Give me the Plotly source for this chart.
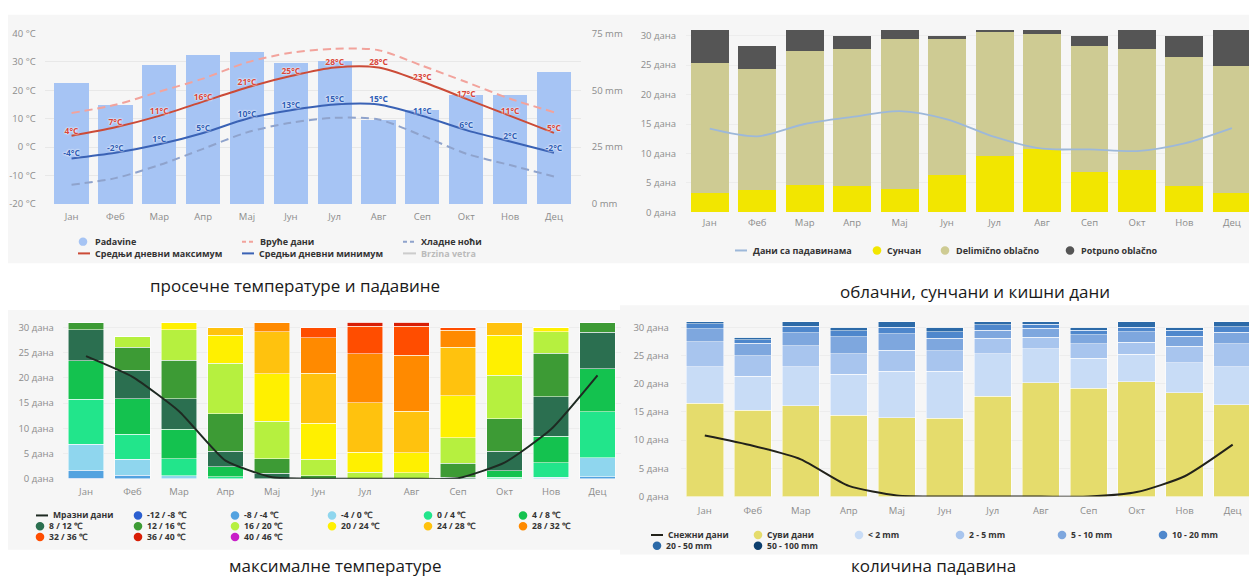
import plotly.graph_objects as go

W, H = 1249, 585
FONT = "Open Sans"

months = ["Јан", "Феб", "Мар", "Апр", "Мај", "Јун", "Јул", "Авг", "Сеп", "Окт", "Нов", "Дец"]

# ---------- panel 1: temperatures and precipitation ----------
precip_mm = [53, 43.5, 61, 65.5, 67, 62, 63, 37, 41.5, 48, 48, 58]
temp_max = [4, 7, 11, 16, 21, 25, 28, 28, 23, 17, 11, 5]
temp_min = [-4, -2, 1, 5, 10, 13, 15, 15, 11, 6, 2, -2]
hot_days = [12.0, 14.9, 19.5, 24.1, 29.8, 33.2, 34.6, 34.1, 28.6, 22.9, 17.0, 12.3]
cold_nights = [-13.2, -10.9, -6.3, -0.6, 5.2, 8.6, 10.3, 9.7, 4.0, -2.3, -6.3, -10.3]
temp_ticks = [-20, -10, 0, 10, 20, 30, 40]
mm_ticks = [0, 25, 50, 75]

# ---------- panel 2: cloudy, sunny and rainy days ----------
sunny = [3.2, 3.8, 4.7, 4.4, 3.9, 6.4, 9.5, 10.7, 6.9, 7.2, 4.5, 3.2]
partly = [22.1, 20.5, 22.7, 23.3, 25.5, 23.0, 21.2, 19.6, 21.4, 20.6, 21.9, 21.6]
overcast = [5.7, 3.9, 3.6, 2.3, 1.6, 0.6, 0.3, 0.7, 1.7, 3.2, 3.6, 6.2]
precip_days = [14.2, 12.9, 15.0, 16.2, 17.2, 15.8, 12.8, 10.8, 10.7, 10.4, 11.7, 14.3]
day_ticks = [0, 5, 10, 15, 20, 25, 30]

# ---------- panel 3: maximum temperatures (days per class) ----------
tclass_labels = ["-12 / -8 ℃", "-8 / -4 ℃", "-4 / 0 ℃", "0 / 4 ℃", "4 / 8 ℃", "8 / 12 ℃", "12 / 16 ℃",
                 "16 / 20 ℃", "20 / 24 ℃", "24 / 28 ℃", "28 / 32 ℃", "32 / 36 ℃", "36 / 40 ℃", "40 / 46 ℃"]
t_m12_m8 = [0.1, 0, 0, 0, 0, 0, 0, 0, 0, 0, 0, 0]
t_m8_m4 = [1.6, 0.7, 0, 0, 0, 0, 0, 0, 0, 0, 0, 0.4]
t_m4_0 = [5.1, 3.2, 0.6, 0, 0, 0, 0, 0, 0, 0, 0.3, 3.8]
t_0_4 = [9.0, 4.9, 3.4, 0.4, 0, 0, 0, 0, 0, 0.3, 2.9, 9.1]
t_4_8 = [7.6, 7.1, 5.8, 2.0, 0, 0, 0, 0, 0, 1.3, 5.2, 8.5]
t_8_12 = [6.1, 5.6, 6.1, 3.1, 1.1, 0, 0, 0, 0.3, 3.9, 7.9, 7.2]
t_12_16 = [1.5, 4.6, 7.6, 7.4, 2.9, 0.6, 0, 0, 2.8, 6.4, 8.6, 2.0]
t_16_20 = [0, 2.1, 6.0, 10.0, 7.4, 3.3, 1.3, 1.2, 5.0, 8.6, 4.2, 0]
t_20_24 = [0, 0, 1.5, 5.5, 9.4, 7.1, 4.0, 4.0, 8.4, 7.9, 0.9, 0]
t_24_28 = [0, 0, 0, 1.6, 8.3, 9.9, 9.8, 8.2, 9.6, 2.6, 0, 0]
t_28_32 = [0, 0, 0, 0, 1.9, 7.0, 9.7, 11.1, 3.3, 0, 0, 0]
t_32_36 = [0, 0, 0, 0, 0, 2.1, 5.4, 5.7, 0.6, 0, 0, 0]
t_36_40 = [0, 0, 0, 0, 0, 0, 0.8, 0.8, 0, 0, 0, 0]
t_40_46 = [0, 0, 0, 0, 0, 0, 0, 0, 0, 0, 0, 0]
frost_days = [24.3, 20.2, 13.4, 3.6, 0.3, 0, 0, 0, 0.1, 3.2, 9.8, 20.5]

# ---------- panel 4: precipitation amounts ----------
pclass_labels = ["Суви дани", "< 2 mm", "2 - 5 mm", "5 - 10 mm", "10 - 20 mm", "20 - 50 mm", "50 - 100 mm"]
dry_days = [16.5, 15.3, 16.1, 14.4, 14.0, 13.9, 17.8, 20.2, 19.2, 20.3, 18.4, 16.3]
p_lt2 = [6.5, 6.0, 6.9, 7.3, 8.2, 8.3, 7.5, 6.0, 5.3, 4.9, 5.3, 6.7]
p_2_5 = [4.4, 3.6, 3.7, 3.6, 3.7, 3.6, 2.7, 2.0, 2.6, 2.1, 2.9, 4.1]
p_5_10 = [2.3, 2.3, 2.3, 3.0, 2.9, 2.2, 1.5, 1.6, 1.6, 1.9, 1.8, 2.0]
p_10_20 = [0.9, 0.6, 1.2, 1.1, 1.2, 1.2, 0.9, 0.7, 0.8, 0.8, 1.1, 1.0]
p_20_50 = [0.4, 0.4, 0.8, 0.6, 1.0, 0.8, 0.6, 0.5, 0.5, 1.0, 0.5, 0.9]
p_50_100 = [0, 0, 0, 0, 0, 0, 0, 0, 0, 0, 0, 0]
snow_days = [10.8, 9.0, 6.6, 1.9, 0.2, 0, 0, 0, 0, 0.8, 3.6, 9.2]

# ---------- colours ----------
C_BAR = "#a6c4f4"
C_MAX = "#cc4b37"
C_MIN = "#3a62b5"
C_HOT = "#f2a39c"
C_COLD = "#8fa3cc"
C_SUN = "#f2e600"
C_PART = "#cecb93"
C_OVER = "#555555"
C_PDAYS = "#9db8d9"
tclass_colors = ["#2b5fd0", "#53a2e0", "#8fd6ee", "#22e58b", "#14c24f", "#2b6f50", "#3d9b35",
                 "#b6f03f", "#fff000", "#ffc20e", "#ff8a00", "#ff4d00", "#d81e05", "#c81ec8"]
pclass_colors = ["#e5dc6c", "#c8dcf6", "#a8c5ee", "#7ea7de", "#4e87cc", "#2c6aa8", "#0d3f6e"]

tclass_values = [t_m12_m8, t_m8_m4, t_m4_0, t_0_4, t_4_8, t_8_12, t_12_16,
                 t_16_20, t_20_24, t_24_28, t_28_32, t_32_36, t_36_40, t_40_46]
pclass_values = [dry_days, p_lt2, p_2_5, p_5_10, p_10_20, p_20_50, p_50_100]

fig = go.Figure()

# panel 1 (bars on base axis y = mm, lines on overlay y2 = temperature)
fig.add_trace(go.Bar(x=months, y=precip_mm, marker=dict(color=C_BAR, line=dict(width=0)),
                     width=0.78, xaxis="x", yaxis="y", showlegend=False, name="Padavine"))
fig.add_trace(go.Scatter(x=months, y=hot_days, mode="lines", line=dict(color=C_HOT, width=2, dash="8px,5px", shape="spline", smoothing=0.8),
                         xaxis="x", yaxis="y2", showlegend=False))
fig.add_trace(go.Scatter(x=months, y=cold_nights, mode="lines", line=dict(color=C_COLD, width=2, dash="8px,5px", shape="spline", smoothing=0.8),
                         xaxis="x", yaxis="y2", showlegend=False))
fig.add_trace(go.Scatter(x=months, y=temp_max, mode="lines+text", line=dict(color=C_MAX, width=2, shape="spline", smoothing=0.8),
                         text=[f"{v}°C" for v in temp_max], textposition="top center",
                         textfont=dict(family=FONT, size=8.5, color="#d9463a", weight="bold", shadow="0 0 2px #fff, 0 0 2px #fff"),
                         xaxis="x", yaxis="y2", showlegend=False))
fig.add_trace(go.Scatter(x=months, y=temp_min, mode="lines+text", line=dict(color=C_MIN, width=2, shape="spline", smoothing=0.8),
                         text=[f"{v}°C" for v in temp_min], textposition="top center",
                         textfont=dict(family=FONT, size=8.5, color="#2f5db5", weight="bold", shadow="0 0 2px #fff, 0 0 2px #fff"),
                         xaxis="x", yaxis="y2", showlegend=False))

# panel 2
for vals, col in [(sunny, C_SUN), (partly, C_PART), (overcast, C_OVER)]:
    fig.add_trace(go.Bar(x=months, y=vals, marker=dict(color=col, line=dict(width=0)), width=0.8,
                         xaxis="x2", yaxis="y3", showlegend=False))
fig.add_trace(go.Scatter(x=months, y=precip_days, mode="lines", line=dict(color=C_PDAYS, width=1.8, shape="spline", smoothing=0.8),
                         xaxis="x2", yaxis="y3", showlegend=False))

# panel 3
for vals, col in zip(tclass_values, tclass_colors):
    fig.add_trace(go.Bar(x=months, y=vals, marker=dict(color=col, line=dict(width=0.7, color="rgba(255,255,255,0.75)")),
                         width=0.77, xaxis="x3", yaxis="y4", showlegend=False))
fig.add_trace(go.Scatter(x=months, y=frost_days, mode="lines", line=dict(color="#1e2a22", width=2, shape="spline", smoothing=0.5),
                         xaxis="x3", yaxis="y4", showlegend=False))

# panel 4
for vals, col in zip(pclass_values, pclass_colors):
    fig.add_trace(go.Bar(x=months, y=vals, marker=dict(color=col, line=dict(width=0.7, color="rgba(255,255,255,0.75)")),
                         width=0.78, xaxis="x4", yaxis="y5", showlegend=False))
fig.add_trace(go.Scatter(x=months, y=snow_days, mode="lines", line=dict(color="#22221a", width=2, shape="spline", smoothing=0.6),
                         xaxis="x4", yaxis="y5", showlegend=False))

tick_font = dict(family=FONT, size=9.5, color="#8c8c8c")


def px_x(a, b):
    return [a / W, min(b / W, 1.0)]


def px_y(top, bottom):
    return [1 - bottom / H, 1 - top / H]


def xax(domain, anchor, standoff, rng=None):
    d = dict(domain=domain, anchor=anchor, type="category", showgrid=False, zeroline=False, showline=False,
             ticks="", tickfont=tick_font, ticklabelstandoff=standoff, fixedrange=True)
    if rng is not None:
        d["range"] = rng
    return d


def day_axis(domain, anchor, standoff):
    return dict(domain=domain, anchor=anchor, range=[0, 31], tickvals=day_ticks,
                ticktext=[f"{v} дана" for v in day_ticks], showgrid=True, gridcolor="#ededed", gridwidth=1,
                zeroline=False, showline=False, ticks="", tickfont=tick_font, ticklabelstandoff=standoff)


fig.update_layout(
    width=W, height=H, margin=dict(l=0, r=0, t=0, b=0),
    paper_bgcolor="white", plot_bgcolor="rgba(0,0,0,0)",
    barmode="stack", bargap=0.2, showlegend=False,
    font=dict(family=FONT),
    xaxis=xax(px_x(44.75, 580.75), "y", 5),
    yaxis=dict(domain=px_y(27, 201.5), anchor="x", side="right", range=[0, 75], tickvals=mm_ticks,
               ticktext=[f"{v} mm" for v in mm_ticks], showgrid=False, zeroline=False, ticks="",
               tickfont=tick_font, ticklabelstandoff=10),
    yaxis2=dict(overlaying="y", anchor="x", side="left", range=[-20, 40], tickvals=temp_ticks,
                ticktext=[f"{v} °C" for v in temp_ticks], showgrid=True, gridcolor="#e8e8e8",
                zeroline=False, ticks="", tickfont=tick_font, ticklabelstandoff=8),
    xaxis2=xax(px_x(686, 1249), "y3", 3, rng=[-0.5, 11.36]),
    yaxis3=day_axis(px_y(23.3, 210), "x2", 9),
    xaxis3=xax(px_x(62.75, 620.75), "y4", 6, rng=[-0.5, 11.5]),
    yaxis4=day_axis(px_y(322.5, 482.5), "x3", 8),
    xaxis4=xax(px_x(680.8, 1249), "y5", 7, rng=[-0.5, 11.34]),
    yaxis5=day_axis(px_y(321.7, 500.7), "x4", 11),
)

shapes = []
annotations = []

# panel backgrounds
for (x0, y0, x1, y1) in [(8, 8, 632, 262), (632, 8, 1249, 262), (8, 310, 620, 555), (620, 305, 1249, 560)]:
    shapes.append(dict(type="rect", xref="paper", yref="paper", x0=x0 / W, x1=x1 / W, y0=1 - y1 / H, y1=1 - y0 / H,
                       fillcolor="#f6f6f6", line=dict(width=0), layer="below"))


def legend_item(label, kind, color, sx, sy, tx, dash=None, textcolor="#333333", size=9):
    if kind == "dot":
        r = 4.3
        shapes.append(dict(type="circle", xref="paper", yref="paper", x0=(sx - r) / W, x1=(sx + r) / W,
                           y0=1 - (sy + r) / H, y1=1 - (sy - r) / H, fillcolor=color, line=dict(width=0)))
    else:
        shapes.append(dict(type="line", xref="paper", yref="paper", x0=sx[0] / W, x1=sx[1] / W,
                           y0=1 - sy / H, y1=1 - sy / H, line=dict(color=color, width=2, dash=dash)))
    annotations.append(dict(text=label, x=tx / W, y=1 - sy / H, xref="paper", yref="paper", xanchor="left",
                            yanchor="middle", showarrow=False, borderpad=0,
                            font=dict(family=FONT, size=size, color=textcolor, weight="bold")))


# panel 1 legend
legend_item("Padavine", "dot", C_BAR, 83, 240, 94)
legend_item("Вруће дани", "line", C_HOT, (242, 255), 240, 259, dash="4px,3px")
legend_item("Хладне ноћи", "line", C_COLD, (403, 416), 240, 420, dash="4px,3px")
legend_item("Средњи дневни максимум", "line", C_MAX, (78, 90), 252, 94)
legend_item("Средњи дневни минимум", "line", C_MIN, (242, 254), 252, 258)
legend_item("Brzina vetra", "line", "#cccccc", (403, 416), 252, 420, textcolor="#bbbbbb")

# panel 2 legend
legend_item("Дани са падавинама", "line", C_PDAYS, (735, 747), 249, 752)
legend_item("Сунчан", "dot", C_SUN, 877, 249, 886)
legend_item("Delimično oblačno", "dot", C_PART, 945, 249, 955)
legend_item("Potpuno oblačno", "dot", C_OVER, 1070, 249, 1080)

# panel 3 legend (6 columns, 3 rows)
cols3 = [40, 138, 235, 332, 428, 523]
rows3 = [520, 531, 542]
legend_item("Мразни дани", "line", "#1e2a22", (36, 48), rows3[0], 52, size=8.6)
for i, (lab, col) in enumerate(zip(tclass_labels, tclass_colors)):
    k = i + 1
    r, c = divmod(k, 6)
    legend_item(lab, "dot", col, cols3[c], rows3[r], cols3[c] + 8, size=8.6)

# panel 4 legend (6 columns, 2 rows)
cols4 = [657, 758, 859, 960, 1062, 1163]
rows4 = [540, 551]
legend_item("Снежни дани", "line", "#22221a", (cols4[0] - 6, cols4[0] + 6), rows4[0], cols4[0] + 10, size=8.6)
for i, (lab, col) in enumerate(zip(pclass_labels, pclass_colors)):
    r, c = divmod(i + 1, 6)
    legend_item(lab, "dot", col, cols4[c], rows4[r], cols4[c] + 8, size=8.6)

# captions
cap_font = dict(family=FONT, size=17, color="#1a1a1a")
for text, cx, cy, anchor in [("просечне температуре и падавине", 295, 285, "middle"),
                             ("облачни, сунчани и кишни дани", 975, 291, "middle"),
                             ("максималне температуре", 335, 584, "bottom"),
                             ("количина падавина", 933, 584, "bottom")]:
    annotations.append(dict(text=text, x=cx / W, y=1 - cy / H, xref="paper", yref="paper", xanchor="center",
                            yanchor=anchor, showarrow=False, borderpad=0, font=cap_font))

fig.update_layout(shapes=shapes, annotations=annotations)
fig.write_html("out.html", config={"displayModeBar": False, "staticPlot": True},
               post_script="document.body.style.margin='0';document.body.style.overflow='hidden';")
